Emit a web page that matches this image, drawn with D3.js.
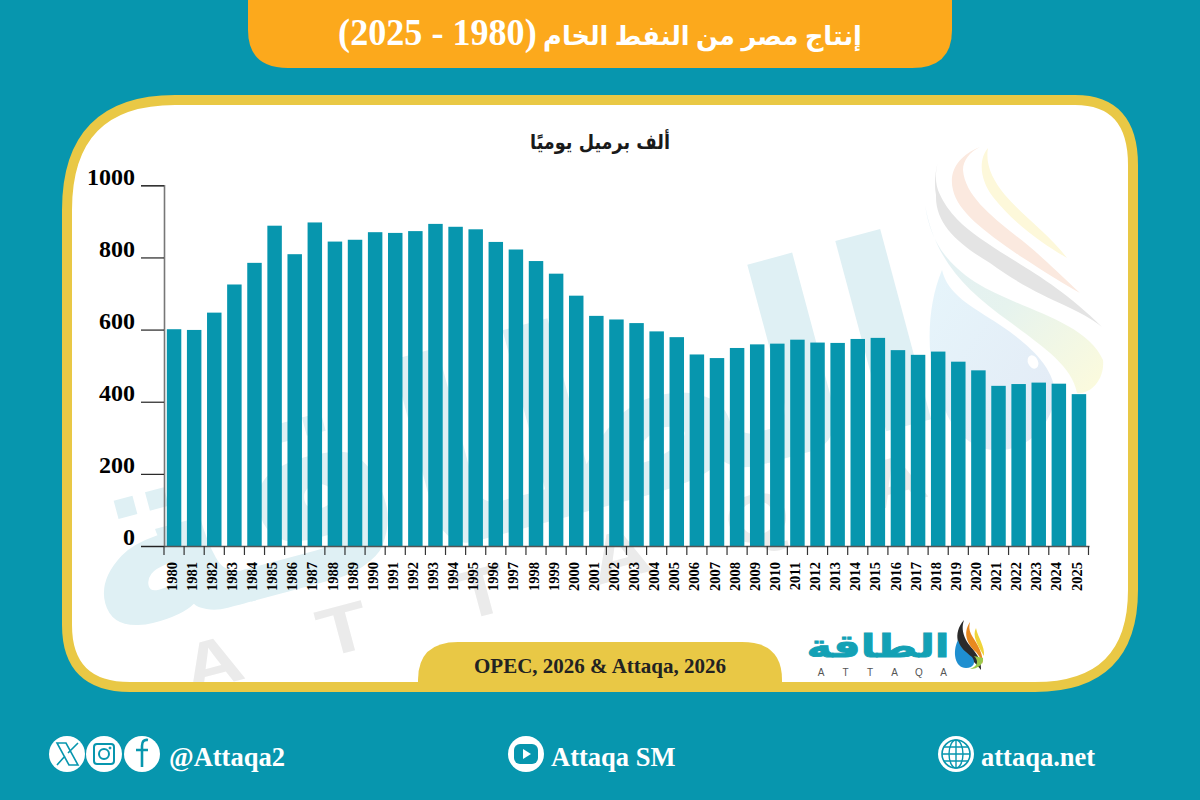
<!DOCTYPE html>
<html lang="ar">
<head>
<meta charset="utf-8">
<title>إنتاج مصر من النفط الخام</title>
<script src="https://cdn.jsdelivr.net/npm/d3@7/dist/d3.min.js"></script>
<style>
  html, body { margin: 0; padding: 0; background: #0796ae; }
  svg { display: block; }
  .serif { font-family: "Liberation Serif", serif; font-weight: 700; }
  .arabic { font-family: "DejaVu Sans", sans-serif; font-weight: 700; }
  .mixed { font-family: "Liberation Serif", "DejaVu Sans", serif; font-weight: 700; }
</style>
</head>
<body>
<svg id="chart" width="1200" height="800"></svg>
<script>
// Egyptian crude output, thousand barrels per day
const years = d3.range(1980, 2026);
const production = [
  601, 599, 647, 725, 785, 888, 809, 897, 844, 849,
  870, 868, 873, 893, 885, 878, 843, 822, 790, 755,
  694, 638, 628, 618, 595, 579, 531, 521, 549, 559,
  561, 572, 564, 563, 574, 577, 543, 530, 539, 511,
  487, 444, 449, 453, 450, 421
];
const yTicks = [0, 200, 400, 600, 800, 1000];
const titleWords = "إنتاج مصر من النفط الخام ";
const titleRange = "(1980 - 2025)";
const unitText = "ألف برميل يوميًا";
const sourceText = "OPEC, 2026 & Attaqa, 2026";
const brandText = "الطاقة";
const brandLatin = ["A", "T", "T", "A", "Q", "A"];
const handles = ["@Attaqa2", "Attaqa SM", "attaqa.net"];

const TEAL = "#0796ae", GOLD = "#e9c845", ORANGE = "#fca91c";
const svg = d3.select("#chart");
const defs = svg.append("defs");

// Fits a text node to a box by scaling about its centre.
function fit(sel, cx, cy, w, h, angle = 0) {
  const b = sel.node().getBBox();
  const sx = w / b.width, sy = (h || b.height) / b.height;
  sel.attr("transform",
    `translate(${cx},${cy}) rotate(${angle}) scale(${sx},${sy}) translate(${-(b.x + b.width / 2)},${-(b.y + b.height / 2)})`);
}

function gradient(id, stops, x2 = 1, y2 = 0) {
  const g = defs.append("linearGradient").attr("id", id)
    .attr("x1", 0).attr("y1", 0).attr("x2", x2).attr("y2", y2);
  stops.forEach((c, i) => g.append("stop").attr("offset", i / (stops.length - 1)).attr("stop-color", c));
}
gradient("bodyFill", ["#e2eff6", "#e6f3ee", "#fdfbdc"], 1, 1);
gradient("dropFill", ["#e6f5fb", "#e3eaf5"], 1, 1);

/* ---------- panel ---------- */
const panel = "M175,100 H1075 Q1133,100 1133,165 V590 Q1133,687 1035,687 H130 Q67,687 67,625 V210 Q67,100 175,100 Z";
defs.append("clipPath").attr("id", "panelClip").append("path").attr("d", panel);
svg.append("path").attr("d", panel).attr("fill", "#fff");

/* ---------- background brand mark ---------- */
const mark = svg.append("g").attr("class", "watermark").attr("clip-path", "url(#panelClip)");
const wm = mark.append("text").attr("class", "arabic").attr("direction", "rtl")
  .attr("text-anchor", "middle").attr("font-size", 200).attr("fill", "#dff0f4").text(brandText);
fit(wm, 502, 441, 885, 302, -15);

const wmLetters = [[212, 662], [343, 628], [481, 591], [619, 554], [757, 517], [895, 480]];
mark.selectAll("text.ltr").data(brandLatin).join("text").attr("class", "ltr")
  .attr("font-family", "Liberation Sans, sans-serif").attr("font-weight", 700)
  .attr("font-size", 68).attr("fill", "#ebebeb").attr("text-anchor", "middle")
  .attr("transform", (d, i) => `translate(${wmLetters[i][0]},${wmLetters[i][1]}) rotate(-15) scale(1.22,1)`)
  .attr("dy", "0.36em").text(d => d);

const swooshes = [
  ["M942,270 C925,310 925,370 945,410 C970,470 1040,460 1055,400 C1058,370 1030,345 1000,325 C970,305 948,295 942,270 Z", "url(#dropFill)"],
  ["M925,205 C930,240 945,262 975,282 C1020,310 1085,320 1103,360 C1105,380 1090,395 1077,393 C1072,365 1040,345 1010,322 C965,290 935,260 925,205 Z", "url(#bodyFill)"],
  ["M938,162 C932,185 940,195 947,207 C960,225 975,235 993,247 C1020,265 1060,285 1102,327 C1075,305 1040,300 990,263 C960,245 935,225 936,195 C934,185 935,172 938,162 Z", "#e4e4e4"],
  ["M980,147 C960,155 948,170 953,190 C958,212 985,232 1020,256 C1045,272 1065,285 1080,293 C1050,265 1035,250 1015,235 C990,215 965,195 963,170 C963,160 970,152 980,147 Z", "#fbe9df"],
  ["M988,148 C978,160 980,180 993,197 C1015,225 1045,245 1067,258 C1050,235 1025,218 1005,195 C993,180 985,165 988,148 Z", "#fdf8da"]
];
mark.selectAll("path.swoosh").data(swooshes).join("path").attr("class", "swoosh")
  .attr("d", d => d[0]).attr("fill", d => d[1]);
mark.append("ellipse").attr("cx", 1033).attr("cy", 362).attr("rx", 5).attr("ry", 7)
  .attr("transform", "rotate(-25 1033 362)").attr("fill", "#fff");

svg.append("path").attr("d", panel).attr("fill", "none").attr("stroke", GOLD).attr("stroke-width", 10);

/* ---------- scales and axes ---------- */
const x = d3.scaleBand().domain(years).range([164, 1089]).paddingInner(0.28).paddingOuter(0.14);
const y = d3.scaleLinear().domain([0, 1000]).range([546, 185.3]);

svg.append("g").selectAll("rect").data(years).join("rect")
  .attr("x", d => x(d))
  .attr("y", (d, i) => y(production[i]))
  .attr("width", x.bandwidth())
  .attr("height", (d, i) => y(0) - y(production[i]))
  .attr("fill", TEAL);

const yAxis = svg.append("g").attr("transform", "translate(164,0)")
  .call(d3.axisLeft(y).tickValues(yTicks).tickSize(23).tickPadding(6).tickFormat(d3.format("d")));
yAxis.select(".domain").attr("stroke", "#777").attr("stroke-width", 1.6);
yAxis.selectAll(".tick line").attr("stroke", "#222").attr("stroke-width", 1.2);
yAxis.selectAll(".tick text").attr("class", "serif").attr("font-size", 24)
  .attr("fill", "#000").attr("dy", "-0.05em");

const xAxis = svg.append("g").attr("transform", "translate(0,546)")
  .call(d3.axisBottom(x).tickSize(9).tickSizeOuter(0).tickPadding(0));
xAxis.select(".domain").attr("stroke", "#555").attr("stroke-width", 1.3);
xAxis.selectAll(".tick line").attr("x1", -x.step() / 2).attr("x2", -x.step() / 2)
  .attr("stroke", "#333").attr("stroke-width", 1.2);
xAxis.append("line").attr("x1", 1088.5).attr("x2", 1088.5).attr("y1", 0).attr("y2", 9)
  .attr("stroke", "#333").attr("stroke-width", 1.2);
xAxis.selectAll(".tick text").attr("class", "serif").attr("font-size", 14.5).attr("fill", "#000")
  .attr("text-anchor", "end")
  .attr("transform", "translate(-2.5,16) rotate(-90)")
  .attr("x", 0).attr("y", 0).attr("dy", "0.35em");

/* ---------- title, unit and source ---------- */
svg.append("path").attr("fill", ORANGE)
  .attr("d", "M248,-10 H952 V30 Q952,68 912,68 H288 Q248,68 248,30 Z");
const title = svg.append("text").attr("class", "mixed").attr("fill", "#fff")
  .attr("font-size", 27).attr("direction", "rtl").attr("text-anchor", "middle");
title.append("tspan").text(titleWords);
title.append("tspan").attr("font-size", 38).text(titleRange);
fit(title, 600, 33, 524, 42);

const unit = svg.append("text").attr("class", "arabic").attr("fill", "#1a1a1a")
  .attr("font-size", 18).attr("direction", "rtl").attr("text-anchor", "middle").text(unitText);
fit(unit, 600, 142, 140, 26);

svg.append("path").attr("fill", GOLD)
  .attr("d", "M418,684 V680 Q418,642 458,642 H742 Q782,642 782,680 V684 Z");
svg.append("text").attr("class", "serif").attr("x", 600).attr("y", 673)
  .attr("text-anchor", "middle").attr("font-size", 21).attr("fill", "#222").text(sourceText);

/* ---------- corner logo ---------- */
const logo = svg.append("text").attr("class", "arabic").attr("fill", "#13a1b5")
  .attr("stroke", "#13a1b5").attr("stroke-width", 1.4)
  .attr("font-size", 50).attr("direction", "rtl").attr("text-anchor", "middle").text(brandText);
fit(logo, 878, 646, 143, 36);
svg.selectAll("text.latin").data(brandLatin).join("text").attr("class", "latin")
  .attr("x", (d, i) => 821 + i * 24.5).attr("y", 676)
  .attr("font-family", "Liberation Sans, sans-serif").attr("font-size", 10)
  .attr("fill", "#555").attr("text-anchor", "middle").text(d => d);

const flames = [
  ["M964,620 C952,634 958,648 968,656 C974,662 978,666 981,670 C982,655 970,648 966,640 C962,632 962,626 964,620 Z", "#2b2b2b"],
  ["M970,622 C962,634 968,645 976,652 C980,657 982,660 983,664 C983,650 974,640 971,634 C969,630 969,626 970,622 Z", "#e8891f"],
  ["M976,628 C972,636 977,644 984,656 C985,646 978,638 976,628 Z", "#f0d43a"],
  ["M958,640 C952,652 955,668 966,668 C974,668 976,662 972,657 C966,652 960,648 958,640 Z", "#1f8fd0"],
  ["M974,656 C979,661 978,666 970,669 C978,669 984,664 983,658 Z", "#9ac84a"]
];
svg.selectAll("path.flame").data(flames).join("path").attr("class", "flame")
  .attr("d", d => d[0]).attr("fill", d => d[1]);

/* ---------- footer ---------- */
const footY = 754, r = 18;
const discs = [67, 104, 142, 526, 956];
svg.selectAll("circle.disc").data(discs).join("circle").attr("class", "disc")
  .attr("cx", d => d).attr("cy", footY).attr("r", r).attr("fill", "#fff");

const icon = svg.append("g").attr("fill", "none").attr("stroke", TEAL);
// X glyph
icon.append("path").attr("stroke-width", 1.6)
  .attr("d", "M57,743 L66,743 L78,765 L69,765 Z M78,743 L68,753 M57,765 L65,756");
// camera glyph
icon.append("rect").attr("x", 94).attr("y", 744).attr("width", 20).attr("height", 20).attr("rx", 3).attr("stroke-width", 2);
icon.append("circle").attr("cx", 104).attr("cy", 754).attr("r", 5).attr("stroke-width", 2);
icon.append("circle").attr("cx", 110).attr("cy", 748).attr("r", 1).attr("fill", TEAL).attr("stroke-width", 1);
// f glyph
icon.append("path").attr("stroke-width", 2.6).attr("d", "M148,740 Q142,739 142,746 V767 M136,750 H148");
// play button
icon.append("rect").attr("x", 514).attr("y", 744).attr("width", 24).attr("height", 20).attr("rx", 6)
  .attr("fill", TEAL).attr("stroke", "none");
icon.append("path").attr("d", "M523,749 L531,754 L523,759 Z").attr("fill", "#fff").attr("stroke", "none");
// globe
icon.append("circle").attr("cx", 956).attr("cy", footY).attr("r", 14).attr("stroke-width", 1.6);
icon.append("ellipse").attr("cx", 956).attr("cy", footY).attr("rx", 7).attr("ry", 14).attr("stroke-width", 1.4);
icon.append("path").attr("stroke-width", 1.4).attr("d", "M956,740 V768 M942,754 H970 M944,747 H968 M944,761 H968");

const handleX = [169, 551, 981];
svg.selectAll("text.handle").data(handles).join("text").attr("class", "handle serif")
  .attr("x", (d, i) => handleX[i]).attr("y", 766)
  .attr("font-size", 26.5).attr("fill", "#fff").text(d => d);
</script>
</body>
</html>
